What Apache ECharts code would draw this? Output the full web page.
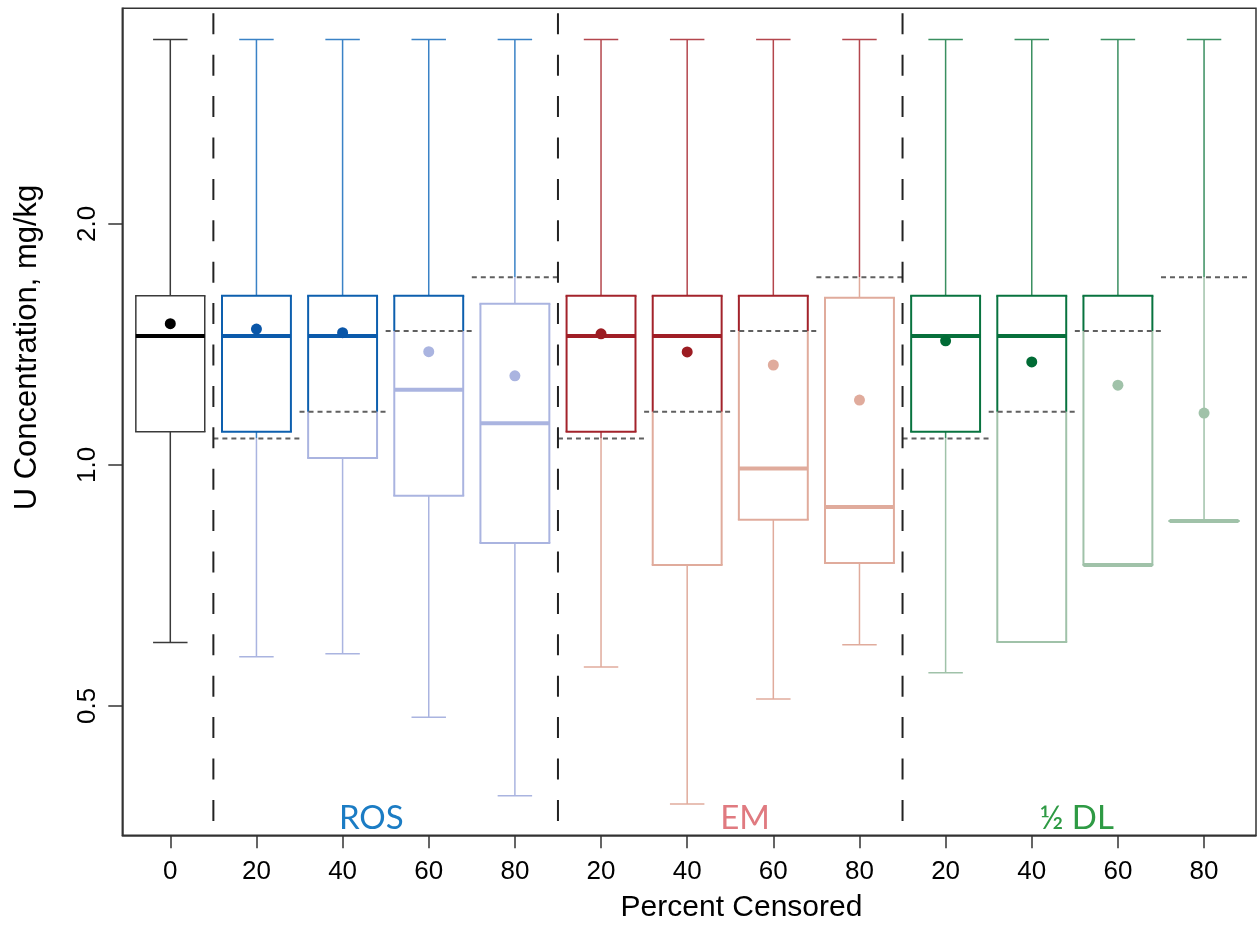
<!DOCTYPE html>
<html><head><meta charset="utf-8">
<script src="https://cdn.jsdelivr.net/npm/echarts@6/dist/echarts.min.js"></script>
<style>html,body{margin:0;padding:0;background:#fff}#c{width:1257px;height:926px}</style>
</head><body><div id="c"></div>
<script>
// ---- data ----
const tickLabels = ['0','20','40','60','80','20','40','60','80','20','40','60','80'];
const methods = ['none','ROS','ROS','ROS','ROS','EM','EM','EM','EM','DL','DL','DL','DL'];
const upperWhisker  = [3.40,3.40,3.40,3.40,3.40,3.40,3.40,3.40,3.40,3.40,3.40,3.40,3.40];
const upperQuartile = [1.627,1.627,1.627,1.627,1.590,1.627,1.627,1.627,1.618,1.627,1.627,1.627,0.851];
const medianValues  = [1.449,1.449,1.449,1.241,1.127,1.449,1.449,0.990,0.886,1.449,1.449,0.750,0.851];
const lowerQuartile = [1.100,1.100,1.020,0.915,0.799,1.100,0.750,0.854,0.754,1.100,0.601,0.750,0.851];
const lowerWhisker  = [0.600,0.576,0.581,0.484,0.386,0.559,0.377,0.510,0.596,0.550,0.601,0.750,0.851];
const meanValues    = [1.501,1.478,1.463,1.385,1.292,1.458,1.384,1.333,1.205,1.429,1.345,1.258,1.161];
const detectionLimit = [null,1.079,1.165,1.470,1.716,1.079,1.165,1.470,1.716,1.079,1.165,1.470,1.716];
const dividers = [1.5,5.5,9.5];
const yTicks = [0.5,1,2];
const groupLabels = ['ROS','EM','\u00BD DL'];

// ---- styles ----
const palette = {
  none: {box:'#3a3a3a', whisker:'#3a3a3a', median:'#000000', dot:'#000000', light:'#3a3a3a', bw:1.5, ww:1.5},
  ROS:  {box:'#0d5fae', whisker:'#3a82c6', median:'#0b5aab', dot:'#0a56a8', light:'#aab4e0', bw:2, ww:1.5},
  EM:   {box:'#a3232b', whisker:'#b4464d', median:'#a01e26', dot:'#9c1c22', light:'#e0ab9c', bw:2, ww:1.5},
  DL:   {box:'#08733f', whisker:'#3a8f60', median:'#07703c', dot:'#006b35', light:'#a0c2a9', bw:2, ww:1.5}
};

const boxData = tickLabels.map((_, i) => [i + 1, lowerWhisker[i], lowerQuartile[i], medianValues[i], upperQuartile[i], upperWhisker[i], meanValues[i]]);
const dlData = [];
detectionLimit.forEach((d, i) => { if (d != null) dlData.push([i + 1, d]); });

function renderBox(params, api) {
  const i = params.dataIndex;
  const x = api.value(0);
  const lw = api.value(1), q1 = api.value(2), med = api.value(3), q3 = api.value(4), uw = api.value(5), mean = api.value(6);
  const dl = detectionLimit[i];
  const pal = palette[methods[i]];
  const isDark = v => dl == null || v >= dl;
  const py = v => api.coord([x, v])[1];
  const cx = api.coord([x, med])[0];
  const half = (api.coord([x + 0.4, med])[0] - api.coord([x - 0.4, med])[0]) / 2;
  const capHalf = half / 2;
  const children = [];
  const line = (x1, y1, x2, y2, color, w) => children.push({
    type: 'line', shape: {x1, y1, x2, y2}, style: {stroke: color, lineWidth: w, lineCap: 'butt'}
  });
  const vseg = (xp, a, b, dc, lc, w) => {
    if (b <= a) return;
    if (dl == null) { line(xp, py(a), xp, py(b), dc, w); return; }
    if (b > dl) { const lo = Math.max(a, dl); line(xp, py(lo), xp, py(b), dc, w); }
    if (a < dl) { const hi = Math.min(b, dl); line(xp, py(a), xp, py(hi), lc, w); }
  };
  const hseg = (v, hw, dc, lc, w, ext) => {
    const y = py(v);
    line(cx - hw - ext, y, cx + hw + ext, y, isDark(v) ? dc : lc, w);
  };
  // whiskers
  vseg(cx, q3, uw, pal.whisker, pal.light, pal.ww);
  hseg(uw, capHalf, pal.whisker, pal.light, pal.ww, 0);
  if (lw < q1) {
    vseg(cx, lw, q1, pal.whisker, pal.light, pal.ww);
    hseg(lw, capHalf, pal.whisker, pal.light, pal.ww, 0);
  }
  // box
  vseg(cx - half, q1, q3, pal.box, pal.light, pal.bw);
  vseg(cx + half, q1, q3, pal.box, pal.light, pal.bw);
  hseg(q3, half, pal.box, pal.light, pal.bw, pal.bw / 2);
  hseg(q1, half, pal.box, pal.light, pal.bw, pal.bw / 2);
  // median
  hseg(med, half, pal.median, pal.light, 4, 0);
  // mean
  const m = api.coord([x, mean]);
  children.push({type: 'circle', shape: {cx: m[0], cy: m[1], r: 5.5}, style: {fill: isDark(mean) ? pal.dot : pal.light}});
  return {type: 'group', children};
}

const chart = echarts.init(document.getElementById('c'), null, {renderer: 'canvas'});
chart.setOption({
  animation: false,
  backgroundColor: '#ffffff',
  grid: {left: 122.3, top: 8.3, right: 1, bottom: 90.7, show: true, borderColor: '#333333', borderWidth: 1.5, backgroundColor: 'transparent'},
  xAxis: {
    type: 'value', min: 0.4428, max: 13.603,
    axisLine: {show: true, lineStyle: {color: '#333333', width: 1.5}},
    axisTick: {show: true, length: 13, lineStyle: {color: '#333333', width: 1.5}, customValues: tickLabels.map((_, i) => i + 1)},
    axisLabel: {show: true, margin: 24, fontSize: 26, color: '#000', fontFamily: 'Liberation Sans, Arial, sans-serif',
      customValues: tickLabels.map((_, i) => i + 1),
      formatter: v => tickLabels[Math.round(v) - 1] ?? ''},
    splitLine: {show: false}
  },
  yAxis: {
    type: 'log', logBase: 1.5, min: 0.3446, max: 3.719,
    axisLine: {show: true, lineStyle: {color: '#333333', width: 1.5}},
    axisTick: {show: true, length: 14, lineStyle: {color: '#333333', width: 1.5}, customValues: yTicks},
    axisLabel: {show: true, rotate: 90, margin: 21, fontSize: 26, color: '#000', fontFamily: 'Liberation Sans, Arial, sans-serif',
      customValues: yTicks, formatter: v => Number(v).toFixed(1)},
    splitLine: {show: false}
  },
  series: [
    {type: 'custom', data: boxData, renderItem: renderBox, z: 2, silent: true},
    {type: 'custom', data: dlData, z: 3, silent: true,
      renderItem: (params, api) => {
        const x = api.value(0), v = api.value(1);
        const p1 = api.coord([x - 0.5, v]), p2 = api.coord([x + 0.5, v]);
        return {type: 'line', shape: {x1: p1[0], y1: p1[1], x2: p2[0], y2: p2[1]},
          style: {stroke: '#606060', lineWidth: 2, lineDash: [5, 4]}};
      }},
    {type: 'custom', data: dividers.map(d => [d, 1]), z: 3, silent: true,
      renderItem: (params, api) => {
        const cs = params.coordSys;
        const xp = api.coord([api.value(0), 1])[0];
        return {type: 'line', shape: {x1: xp, y1: cs.y, x2: xp, y2: cs.y + cs.height},
          style: {stroke: '#222222', lineWidth: 2, lineDash: [21, 20.4], lineDashOffset: 36.4}};
      }}
  ],
  graphic: [
    {type: 'text', x: 371.3, y: 818, style: {text: groupLabels[0], fill: '#1b7cc4', fontSize: 33, fontFamily: 'Lato, sans-serif', align: 'center', verticalAlign: 'middle'}},
    {type: 'text', x: 745, y: 818, style: {text: groupLabels[1], fill: '#e07a80', fontSize: 33, fontFamily: 'Lato, sans-serif', align: 'center', verticalAlign: 'middle'}},
    {type: 'text', x: 1076.7, y: 818, style: {text: groupLabels[2], fill: '#2e9a44', fontSize: 33, fontFamily: 'Lato, sans-serif', align: 'center', verticalAlign: 'middle'}},
    {type: 'text', x: 741.5, y: 908, style: {text: 'Percent Censored', fill: '#000', fontSize: 30, fontFamily: 'Liberation Sans, Arial, sans-serif', align: 'center', verticalAlign: 'middle'}},
    {type: 'text', x: 27, y: 347.5, rotation: Math.PI / 2, style: {text: 'U Concentration, mg/kg', fill: '#000', fontSize: 31, fontFamily: 'Liberation Sans, Arial, sans-serif', align: 'center', verticalAlign: 'middle'}}
  ]
});
</script>
</body></html>
